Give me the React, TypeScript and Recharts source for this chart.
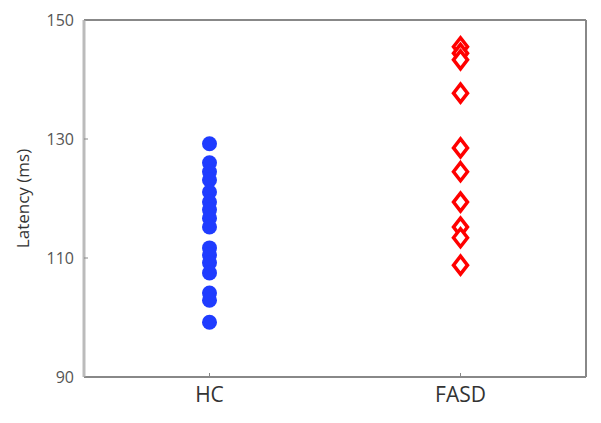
import { ScatterChart, Scatter, XAxis, YAxis, ReferenceLine } from "recharts";

const GROUPS = ["HC", "FASD"];
const HC_LATENCY = [129.2, 126, 124.5, 123.1, 121.1, 119.4, 118.1, 116.7, 115.2, 111.7, 110.5, 109.2, 107.5, 104.1, 102.9, 99.2];
const FASD_LATENCY = [145.5, 144.4, 143.3, 137.7, 128.5, 124.5, 119.4, 115.2, 113.4, 108.8];
const Y_TICKS = [90, 110, 130, 150];

const hcData = HC_LATENCY.map((v) => ({ x: 1, y: v }));
const fasdData = FASD_LATENCY.map((v) => ({ x: 2, y: v }));

const Dot = (props: any) => (
  <circle cx={props.cx} cy={props.cy} r={7.5} fill="#1f3cff" />
);

const Diamond = (props: any) => {
  const { cx, cy } = props;
  const w = 7;
  const h = 9;
  return (
    <polygon
      points={`${cx},${cy - h} ${cx + w},${cy} ${cx},${cy + h} ${cx - w},${cy}`}
      fill="#fff"
      stroke="#ff0000"
      strokeWidth={3.5}
    />
  );
};

export default function App() {
  return (
    <div style={{ position: "absolute", left: 0, top: 0, background: "#fff" }}>
      <ScatterChart width={601} height={423} margin={{ top: 20, right: 15, bottom: 8, left: 0 }}>
        <XAxis
          type="number"
          dataKey="x"
          domain={[0.5, 2.5]}
          ticks={[1, 2]}
          tickFormatter={(v: number) => GROUPS[v - 1]}
          axisLine={{ stroke: "#888", strokeWidth: 2 }}
          tickLine={{ stroke: "#888" }}
          tickSize={-4}
          tick={{ fontSize: 21, fill: "#333", fontFamily: "Open Sans" }}
          height={38}
          tickMargin={14}
        />
        <YAxis
          type="number"
          dataKey="y"
          domain={[90, 150]}
          ticks={Y_TICKS}
          axisLine={{ stroke: "#bbb", strokeWidth: 3 }}
          tickLine={{ stroke: "#888" }}
          tickSize={-4}
          tick={{ fontSize: 16, fill: "#555", fontFamily: "Open Sans" }}
          tickMargin={14}
          width={84}
          label={{
            value: "Latency (ms)",
            angle: -90,
            position: "insideLeft",
            dx: 18,
            dy: 0,
            style: { textAnchor: "middle", fontSize: 17, fill: "#333", fontFamily: "Open Sans" },
          }}
        />
        <ReferenceLine y={150} stroke="#888" strokeWidth={2} />
        <ReferenceLine x={2.5} stroke="#888" strokeWidth={2} />
        <Scatter data={hcData} shape={Dot} isAnimationActive={false} />
        <Scatter data={fasdData} shape={Diamond} isAnimationActive={false} />
      </ScatterChart>
    </div>
  );
}
